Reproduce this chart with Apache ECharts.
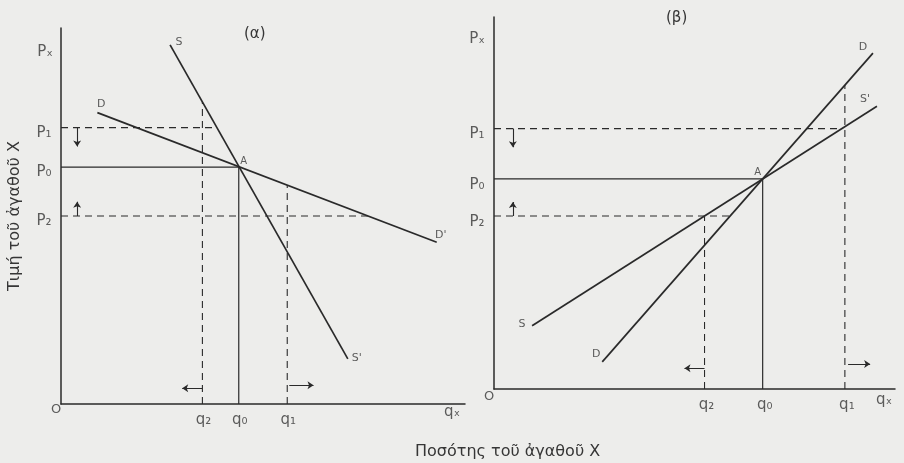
<!DOCTYPE html>
<html>
<head>
<meta charset="utf-8">
<script src="https://cdn.jsdelivr.net/npm/echarts@6/dist/echarts.min.js"></script>
<style>
  html, body { margin: 0; padding: 0; background: #ededeb; }
  #chart { width: 904px; height: 463px; }
</style>
</head>
<body>
<div id="chart"></div>
<script>
// Panel (α): demand D–D' and a backward-bending supply S–S' (steeper than demand)
const demandA = [[0.9, 7.75], [9.3, 4.3]];
const supplyA = [[2.7, 9.55], [7.1, 1.2]];
const pricesA = [6.3, 7.35, 5.0];        // P0, P1, P2
const quantitiesA = [4.4, 5.6, 3.5];     // q0, q1, q2

// Panel (β): upward-sloping demand D–D steeper than supply S–S'
const demandB = [[2.7, 0.73], [9.45, 9.03]];
const supplyB = [[0.95, 1.7], [9.55, 7.6]];
const pricesB = [5.65, 7.0, 4.65];       // P0, P1, P2
const quantitiesB = [6.7, 8.75, 5.25];   // q0, q1, q2

const priceLabels = ['P₀', 'P₁', 'P₂'];
const quantityLabels = ['q₀', 'q₁', 'q₂'];
const axisLabelsText = ['Pₓ', 'qₓ', 'O'];

const INK = '#2a2a2a';
const TEXT = '#363636';
const FONT = 'DejaVu Sans';

function yAt(seg, x) {
  const [[x1, y1], [x2, y2]] = seg;
  return y1 + (y2 - y1) * (x - x1) / (x2 - x1);
}
function xAt(seg, y) {
  const [[x1, y1], [x2, y2]] = seg;
  return x1 + (x2 - x1) * (y - y1) / (y2 - y1);
}

function buildPanel(i, demand, supply, prices, quantities, opt) {
  const [p0, p1, p2] = prices;
  const [q0, q1, q2] = quantities;
  const ax = { xAxisIndex: i, yAxisIndex: i };
  const heavy = { color: INK, width: 1.7 };
  const thin = { color: INK, width: 1.2 };
  const dash = { color: INK, width: 1.1, type: [7, 5] };
  const seg = (data, style) => ({
    type: 'line', ...ax, data, symbol: 'none', lineStyle: style,
    silent: true, animation: false
  });

  const arrows = {
    type: 'lines', coordinateSystem: 'cartesian2d', ...ax,
    symbol: ['none', 'arrow'], symbolSize: 6, silent: true, animation: false,
    lineStyle: { color: INK, width: 1.1, opacity: 1 },
    data: [
      { coords: [[opt.arrowX, p1], [opt.arrowX, p1 - opt.downLen]] },
      { coords: [[opt.arrowX, p2], [opt.arrowX, p2 + opt.upLen]] },
      { coords: [[q2, opt.leftY], [q2 - opt.leftLen, opt.leftY]] },
      { coords: [[q1 + opt.rightGap, opt.rightY], [q1 + opt.rightGap + opt.rightLen, opt.rightY]] }
    ]
  };

  const lbl = (value, text, offset, size) => ({
    value,
    label: {
      show: true, position: 'inside', formatter: text, offset,
      color: TEXT, fontFamily: FONT, fontSize: size || 15
    }
  });

  const A = [q0, p0];
  const labels = {
    type: 'scatter', ...ax, symbolSize: 0, silent: true, animation: false,
    data: [
      lbl([0, p0], priceLabels[0], opt.pOff),
      lbl([0, p1], priceLabels[1], opt.pOff),
      lbl([0, p2], priceLabels[2], opt.pOff),
      lbl([q0, 0], quantityLabels[0], opt.qOff),
      lbl([q1, 0], quantityLabels[1], opt.qOff),
      lbl([q2, 0], quantityLabels[2], opt.qOff),
      lbl([0, 10], axisLabelsText[0], opt.pxOff),
      lbl([10, 0], axisLabelsText[1], opt.qxOff),
      lbl([0, 0], axisLabelsText[2], opt.oOff, 13),
      lbl(A, 'A', opt.aOff, 10),
      lbl(demand[0], opt.dNames[0], opt.d0Off, 11),
      lbl(demand[1], opt.dNames[1], opt.d1Off, 11),
      lbl(supply[0], opt.sNames[0], opt.s0Off, 11),
      lbl(supply[1], opt.sNames[1], opt.s1Off, 11)
    ]
  };

  return [
    seg(demand, heavy),
    seg(supply, heavy),
    seg([[0, p0], A, [q0, 0]], thin),
    seg([[0, p1], [xAt(supply, p1), p1]], dash),
    seg([[0, p2], [xAt(demand, p2), p2]], dash),
    seg([[q1, 0], [q1, yAt(demand, q1)]], dash),
    seg([[q2, 0], [q2, yAt(supply, q2)]], dash),
    arrows,
    labels
  ];
}

const seriesA = buildPanel(0, demandA, supplyA, pricesA, quantitiesA, {
  arrowX: 0.4, downLen: 0.5, upLen: 0.38,
  leftY: 0.42, leftLen: 0.5, rightY: 0.5, rightGap: 0.05, rightLen: 0.6,
  pOff: [-17, 5], qOff: [1, 16], pxOff: [-16, 24], qxOff: [-13, 8], oOff: [-5, 6],
  aOff: [5, -6],
  dNames: ['D', "D'"], sNames: ['S', "S'"],
  d0Off: [4, -8], d1Off: [4, -7], s0Off: [9, -3], s1Off: [9, -1]
});

const seriesB = buildPanel(1, demandB, supplyB, pricesB, quantitiesB, {
  arrowX: 0.47, downLen: 0.5, upLen: 0.38,
  leftY: 0.56, leftLen: 0.5, rightY: 0.67, rightGap: 0.08, rightLen: 0.55,
  pOff: [-17, 6], qOff: [2, 16], pxOff: [-17, 22], qxOff: [-11, 11], oOff: [-5, 8],
  aOff: [-5, -6],
  dNames: ['D', 'D'], sNames: ['S', "S'"],
  d0Off: [-6, -8], d1Off: [-10, -6], s0Off: [-10, -2], s1Off: [-12, -7]
});

const axisCommon = {
  type: 'value', min: 0, max: 10,
  axisLine: { show: true, lineStyle: { color: INK, width: 1.5 } },
  axisTick: { show: false }, axisLabel: { show: false }, splitLine: { show: false }
};

const chart = echarts.init(document.getElementById('chart'), null, { renderer: 'canvas' });
chart.setOption({
  backgroundColor: '#ededeb',
  animation: false,
  title: [
    { text: '(α)', left: 239, top: 22, textStyle: { color: TEXT, fontFamily: FONT, fontSize: 15, fontWeight: 'normal' } },
    { text: '(β)', left: 661, top: 6, textStyle: { color: TEXT, fontFamily: FONT, fontSize: 15, fontWeight: 'normal' } },
    { text: 'Ποσότης τοῦ ἀγαθοῦ X', left: 410, top: 439, textStyle: { color: TEXT, fontFamily: FONT, fontSize: 16, fontWeight: 'normal' } }
  ],
  grid: [
    { left: 61, top: 28, width: 404, height: 376 },
    { left: 494, top: 17, width: 401, height: 372 }
  ],
  xAxis: [
    { ...axisCommon, gridIndex: 0 },
    { ...axisCommon, gridIndex: 1 }
  ],
  yAxis: [
    {
      ...axisCommon, gridIndex: 0,
      name: 'Τιμή τοῦ ἀγαθοῦ X', nameLocation: 'middle', nameGap: 38, nameRotate: 90,
      nameTextStyle: { color: TEXT, fontFamily: FONT, fontSize: 16 }
    },
    { ...axisCommon, gridIndex: 1 }
  ],
  series: [...seriesA, ...seriesB]
});
</script>
</body>
</html>
